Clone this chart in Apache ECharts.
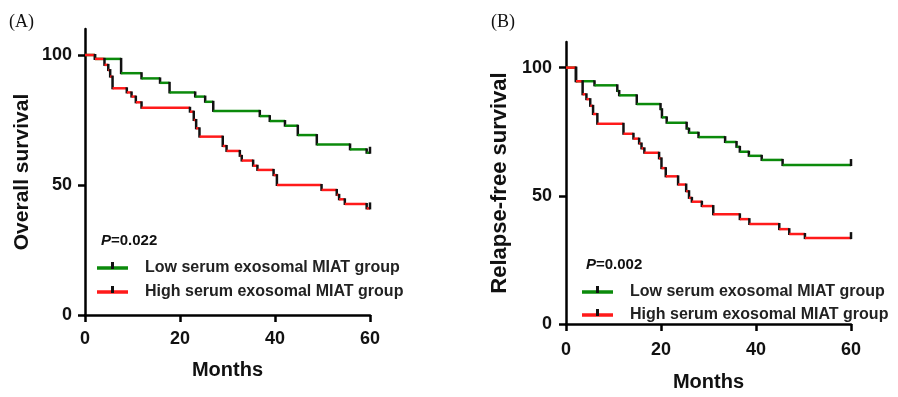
<!DOCTYPE html>
<html>
<head>
<meta charset="utf-8">
<script src="https://cdn.jsdelivr.net/npm/echarts@6/dist/echarts.min.js"></script>
<style>
  html, body { margin: 0; padding: 0; background: #fff; }
  #main { width: 898px; height: 397px; }
</style>
</head>
<body>
<div id="main"></div>
<script>
// Kaplan-Meier step points (months, survival %)
var lowOsT = [0, 2.1, 7.6, 11.9, 15.8, 17.8, 23.2, 25.3, 27.0, 36.8, 38.9, 42.1, 44.8, 48.8, 55.8, 59.3]
var lowOsS = [100, 98.5, 93, 91, 89.3, 85.6, 84, 82, 78.5, 76.5, 74.6, 72.8, 69.2, 65.6, 63.7, 62.4]
var highOsT = [0, 2.1, 4.1, 4.9, 5.3, 5.8, 8.8, 9.8, 10.7, 11.9, 22.1, 22.9, 23.4, 24.1, 29.0, 29.8, 32.6, 33.0, 35.4, 36.3, 39.7, 40.4, 49.8, 53.0, 53.5, 54.7, 59.3]
var highOsS = [100, 98.5, 96.2, 94.2, 91.7, 87.2, 85.6, 84.0, 81.8, 79.7, 78.2, 75.0, 71.8, 68.6, 65.0, 63.1, 61.2, 59.4, 57.4, 55.8, 53.8, 50.0, 48.1, 46.2, 44.5, 42.7, 41.0]

var lowRfsT = [0, 2.1, 6.0, 10.8, 11.2, 14.9, 19.9, 20.2, 21.2, 25.4, 25.9, 27.9, 33.5, 35.9, 36.6, 38.5, 41.2, 45.6]
var lowRfsS = [100, 94.7, 93.1, 90.9, 89.2, 85.8, 83.8, 80.6, 78.5, 76.2, 74.6, 72.9, 71.0, 69.1, 67.2, 65.6, 64.0, 62.0]
var highRfsT = [0, 2.1, 3.5, 4.3, 5.1, 5.7, 6.6, 12.1, 14.2, 15.4, 15.9, 16.5, 19.6, 20.1, 21.0, 23.6, 25.3, 25.9, 26.5, 28.6, 31.0, 36.6, 38.6, 44.9, 47.0, 50.3]
var highRfsS = [100, 94.7, 89.6, 87.7, 85.1, 81.9, 78.1, 74.2, 72.3, 70.4, 68.5, 66.8, 64.6, 60.8, 57.6, 54.4, 51.8, 49.2, 47.7, 46.0, 42.8, 40.9, 39.0, 37.0, 35.1, 33.5]

var endMonth = 60
var xTicks = [0, 20, 40, 60]
var yTicks = [0, 50, 100]
var lowName = 'Low serum exosomal MIAT group'
var highName = 'High serum exosomal MIAT group'
var green = '#0b8a0b'
var red = '#ff1a1a'
var font = 'Liberation Sans, Arial, sans-serif'

// turn a step curve into segments [t0, t1, s0, s1]
function toSegments (t, s) {
    var rows = []
    for (var i = 0; i < t.length; i++) {
        var t1 = i < t.length - 1 ? t[i + 1] : endMonth
        var s1 = i < s.length - 1 ? s[i + 1] : null
        rows.push([t[i], t1, s[i], s1])
    }
    return rows
}

function stepSeries (name, t, s, color, idx) {
    return {
        name: name,
        type: 'custom',
        xAxisIndex: idx,
        yAxisIndex: idx,
        itemStyle: { color: color },
        data: toSegments(t, s),
        renderItem: function (params, api) {
            var a = api.coord([api.value(0), api.value(2)])
            var b = api.coord([api.value(1), api.value(2)])
            var children = [{
                type: 'line',
                shape: { x1: a[0], y1: a[1], x2: b[0], y2: b[1] },
                style: { stroke: color, lineWidth: 2.5 }
            }]
            var s1 = api.value(3)
            if (!isNaN(s1) && s1 !== null) {
                var c = api.coord([api.value(1), s1])
                children.push({
                    type: 'line',
                    shape: { x1: b[0], y1: b[1] - 1, x2: c[0], y2: c[1] + 1 },
                    style: { stroke: '#111', lineWidth: 2.5 }
                })
            } else {
                // censor tick at end of follow-up
                children.push({
                    type: 'line',
                    shape: { x1: b[0], y1: b[1] + 1, x2: b[0], y2: b[1] - 6 },
                    style: { stroke: '#111', lineWidth: 2.5 }
                })
            }
            return { type: 'group', children: children }
        }
    }
}

function makeX (idx, gap, margin) {
    return {
        gridIndex: idx, type: 'value', min: 0, max: 60,
        name: 'Months', nameLocation: 'middle', nameGap: gap,
        nameTextStyle: { fontFamily: font, fontWeight: 'bold', fontSize: 20, color: '#111' },
        axisLine: { lineStyle: { color: '#000', width: 2.5 } },
        axisTick: { length: 7, lineStyle: { color: '#000', width: 2.5 }, customValues: xTicks },
        axisLabel: { customValues: xTicks, margin: margin, fontFamily: font, fontWeight: 'bold', fontSize: 18, color: '#111' },
        splitLine: { show: false }
    }
}

function makeY (idx, title, gap, size, margin) {
    return {
        gridIndex: idx, type: 'value', min: 0, max: 110,
        name: title, nameLocation: 'middle', nameGap: gap, nameRotate: 90,
        nameTextStyle: { fontFamily: font, fontWeight: 'bold', fontSize: size, color: '#111' },
        axisLine: { show: true, lineStyle: { color: '#000', width: 2.5 } },
        axisTick: { show: true, length: 7, lineStyle: { color: '#000', width: 2.5 }, customValues: yTicks },
        axisLabel: { customValues: yTicks, margin: margin, fontFamily: font, fontWeight: 'bold', fontSize: 18, color: '#111' },
        splitLine: { show: false }
    }
}

function makeLegend (left, top, gap) {
    return {
        left: left, top: top, orient: 'vertical', padding: 0,
        itemWidth: 31, itemHeight: 16, itemGap: gap,
        icon: 'path://M0,0H31V3.5H0Z',
        textStyle: { fontFamily: font, fontWeight: 'bold', fontSize: 16, lineHeight: 16, color: '#222', padding: [0, 0, 0, 12] },
        data: [lowName, highName],
        selectedMode: false
    }
}

function pText (label, left, top) {
    return { text: '{i|P}{n|' + label + '}', left: left, top: top, padding: 0, textStyle: { rich: {
        i: { fontFamily: font, fontWeight: 'bold', fontStyle: 'italic', fontSize: 15, color: '#111' },
        n: { fontFamily: font, fontWeight: 'bold', fontSize: 15, color: '#111' } } } }
}

// black censor tick drawn on each legend line
function legendTick (x, y) {
    return { type: 'rect', left: x, top: y, shape: { width: 3, height: 7 }, style: { fill: '#111' }, z: 100 }
}

var myChart = echarts.init(document.getElementById('main'))
var option = {
    animation: false,
    backgroundColor: '#fff',
    grid: [
        { left: 85, top: 29, width: 285, height: 286 },
        { left: 566, top: 42, width: 285, height: 286 }
    ],
    xAxis: [makeX(0, 45, 15), makeX(1, 48, 17)],
    yAxis: [makeY(0, 'Overall survival', 52, 21, 13), makeY(1, 'Relapse-free survival', 55, 22, 14)],
    title: [
        { text: '(A)', left: 4, top: 8, textStyle: { fontFamily: 'Liberation Serif, Times New Roman, serif', fontWeight: 'normal', fontSize: 18, color: '#111' } },
        { text: '(B)', left: 486, top: 8, textStyle: { fontFamily: 'Liberation Serif, Times New Roman, serif', fontWeight: 'normal', fontSize: 18, color: '#111' } },
        pText('=0.022', 101, 233),
        pText('=0.002', 586, 257)
    ],
    legend: [makeLegend(97, 260, 8), makeLegend(582, 284, 7)],
    graphic: [
        legendTick(111, 262), legendTick(111, 286),
        legendTick(596, 286), legendTick(596, 309)
    ],
    series: [
        stepSeries(lowName, lowOsT, lowOsS, green, 0),
        stepSeries(highName, highOsT, highOsS, red, 0),
        stepSeries(lowName, lowRfsT, lowRfsS, green, 1),
        stepSeries(highName, highRfsT, highRfsS, red, 1)
    ]
}
myChart.setOption(option)
window.onresize = myChart.resize
</script>
</body>
</html>
